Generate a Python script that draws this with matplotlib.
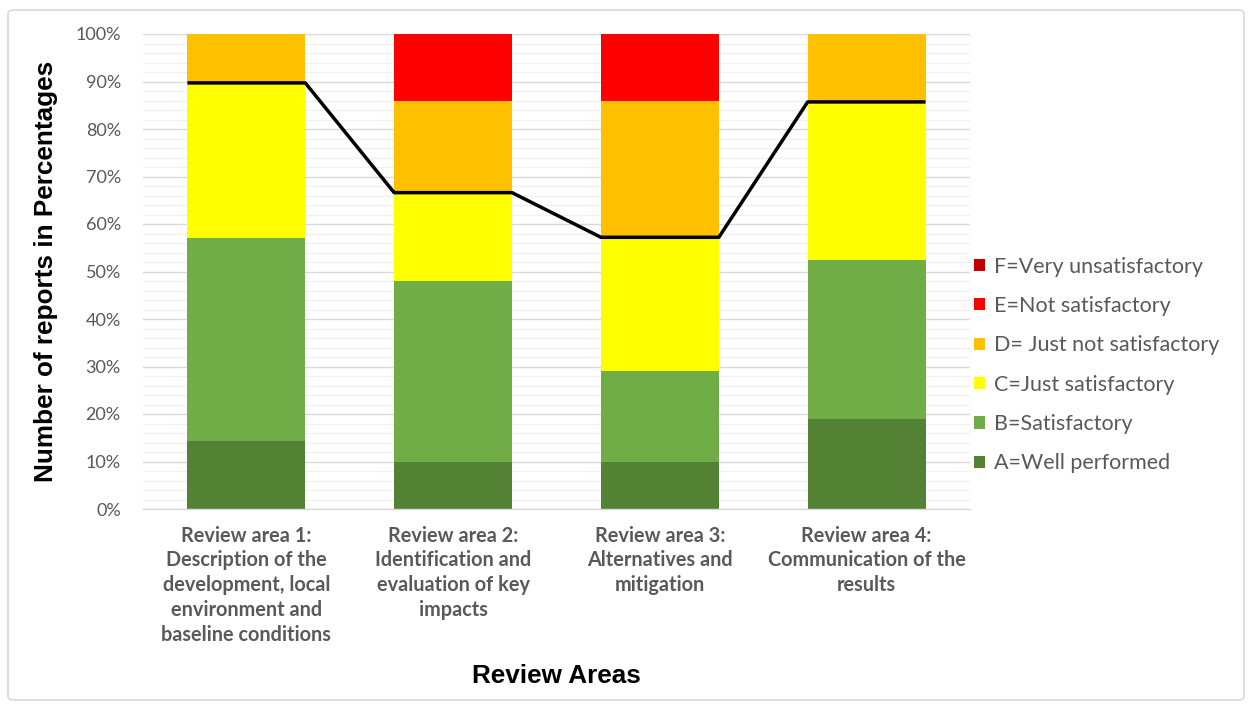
import matplotlib
matplotlib.use("Agg")
import matplotlib.pyplot as plt
import numpy as np
from matplotlib.patches import Patch, FancyBboxPatch

categories = [
    "Review area 1:\nDescription of the\ndevelopment, local\nenvironment and\nbaseline conditions",
    "Review area 2:\nIdentification and\nevaluation of key\nimpacts",
    "Review area 3:\nAlternatives and\nmitigation",
    "Review area 4:\nCommunication of the\nresults",
]
series_names = ["A=Well performed", "B=Satisfactory", "C=Just satisfactory",
                "D= Just not satisfactory", "E=Not satisfactory", "F=Very unsatisfactory"]
A = [14.3, 9.8, 9.8, 19.0]
B = [42.8, 38.1, 19.3, 33.4]
C = [32.6, 18.7, 28.1, 33.3]
D = [10.3, 19.3, 28.6, 14.3]
E = [0.0, 14.1, 14.2, 0.0]
F = [0.0, 0.0, 0.0, 0.0]
colors = ["#548235", "#70AD47", "#FFFF00", "#FFC000", "#FF0000", "#C00000"]
yticks = [0, 10, 20, 30, 40, 50, 60, 70, 80, 90, 100]

W, H = 1250, 713
fig = plt.figure(figsize=(W / 100, H / 100), dpi=100)
ax = fig.add_axes([143 / W, 1 - 509 / H, (970 - 143) / W, (509 - 34) / H])

x = np.arange(len(categories))
bw = 0.57
bottom = np.zeros(len(categories))
for vals, col in zip([A, B, C, D, E, F], colors):
    v = np.array(vals)
    ax.bar(x, v, bw, bottom=bottom, color=col, zorder=3, linewidth=0)
    bottom += v

# line: cumulative satisfactory (A+B+C) across each bar width
sat = np.array(A) + np.array(B) + np.array(C)
lx = np.ravel(np.column_stack([x - bw / 2, x + bw / 2]))
ly = np.repeat(sat, 2)
ax.plot(lx, ly, color="black", lw=2.5, zorder=5, solid_capstyle="butt")

ax.set_xlim(-0.5, len(categories) - 0.5)
ax.set_ylim(0, 100)
ax.set_yticks(yticks)
ax.set_yticklabels([f"{t}%" for t in yticks], fontsize=13, color="#595959",
                   family=["Lato", "DejaVu Sans"])
ax.set_yticks(np.arange(0, 101, 2), minor=True)
ax.grid(axis="y", which="major", color="#D9D9D9", lw=1.0, zorder=0)
ax.grid(axis="y", which="minor", color="#F0F0F0", lw=0.9, zorder=0)
ax.tick_params(axis="both", which="both", length=0)
ax.tick_params(axis="y", pad=16)
ax.set_xticks(x)
ax.set_xticklabels(categories, fontsize=14.3, color="#595959", fontweight="bold",
                   family=["Lato", "DejaVu Sans"], linespacing=1.3)
ax.tick_params(axis="x", pad=12)
for s in ["top", "right", "left"]:
    ax.spines[s].set_visible(False)
ax.spines["bottom"].set_color("#D9D9D9")
ax.spines["bottom"].set_linewidth(1.0)
ax.spines["bottom"].set_zorder(4)

ax.set_ylabel("Number of reports in Percentages", fontsize=18.8, fontweight="bold",
              family=["Liberation Sans", "DejaVu Sans"])
ax.yaxis.set_label_coords(-0.103, 0.5)

fig.text(556 / W, 1 - 676 / H, "Review Areas", fontsize=18.8, fontweight="bold",
         family=["Liberation Sans", "DejaVu Sans"], ha="center", va="center")

handles = [Patch(facecolor=c, edgecolor="none") for c in colors][::-1]
labels = series_names[::-1]
leg = fig.legend(handles, labels, loc="center left",
                 bbox_to_anchor=(974 / W, 1 - 365 / H), frameon=False,
                 handlelength=0.5, handleheight=0.5, handletextpad=0.45,
                 labelspacing=0.9, borderpad=0, borderaxespad=0,
                 prop={"family": ["Lato", "DejaVu Sans"], "size": 15.5})
for t in leg.get_texts():
    t.set_color("#595959")

border = FancyBboxPatch((8 / W, 13 / H), (1244 - 8) / W, (703 - 13) / H,
                        boxstyle="round,pad=0,rounding_size=0.005",
                        transform=fig.transFigure, fill=False,
                        edgecolor="#D9D9D9", lw=1.2)
fig.patches.append(border)

fig.savefig("out.png", dpi=100)
